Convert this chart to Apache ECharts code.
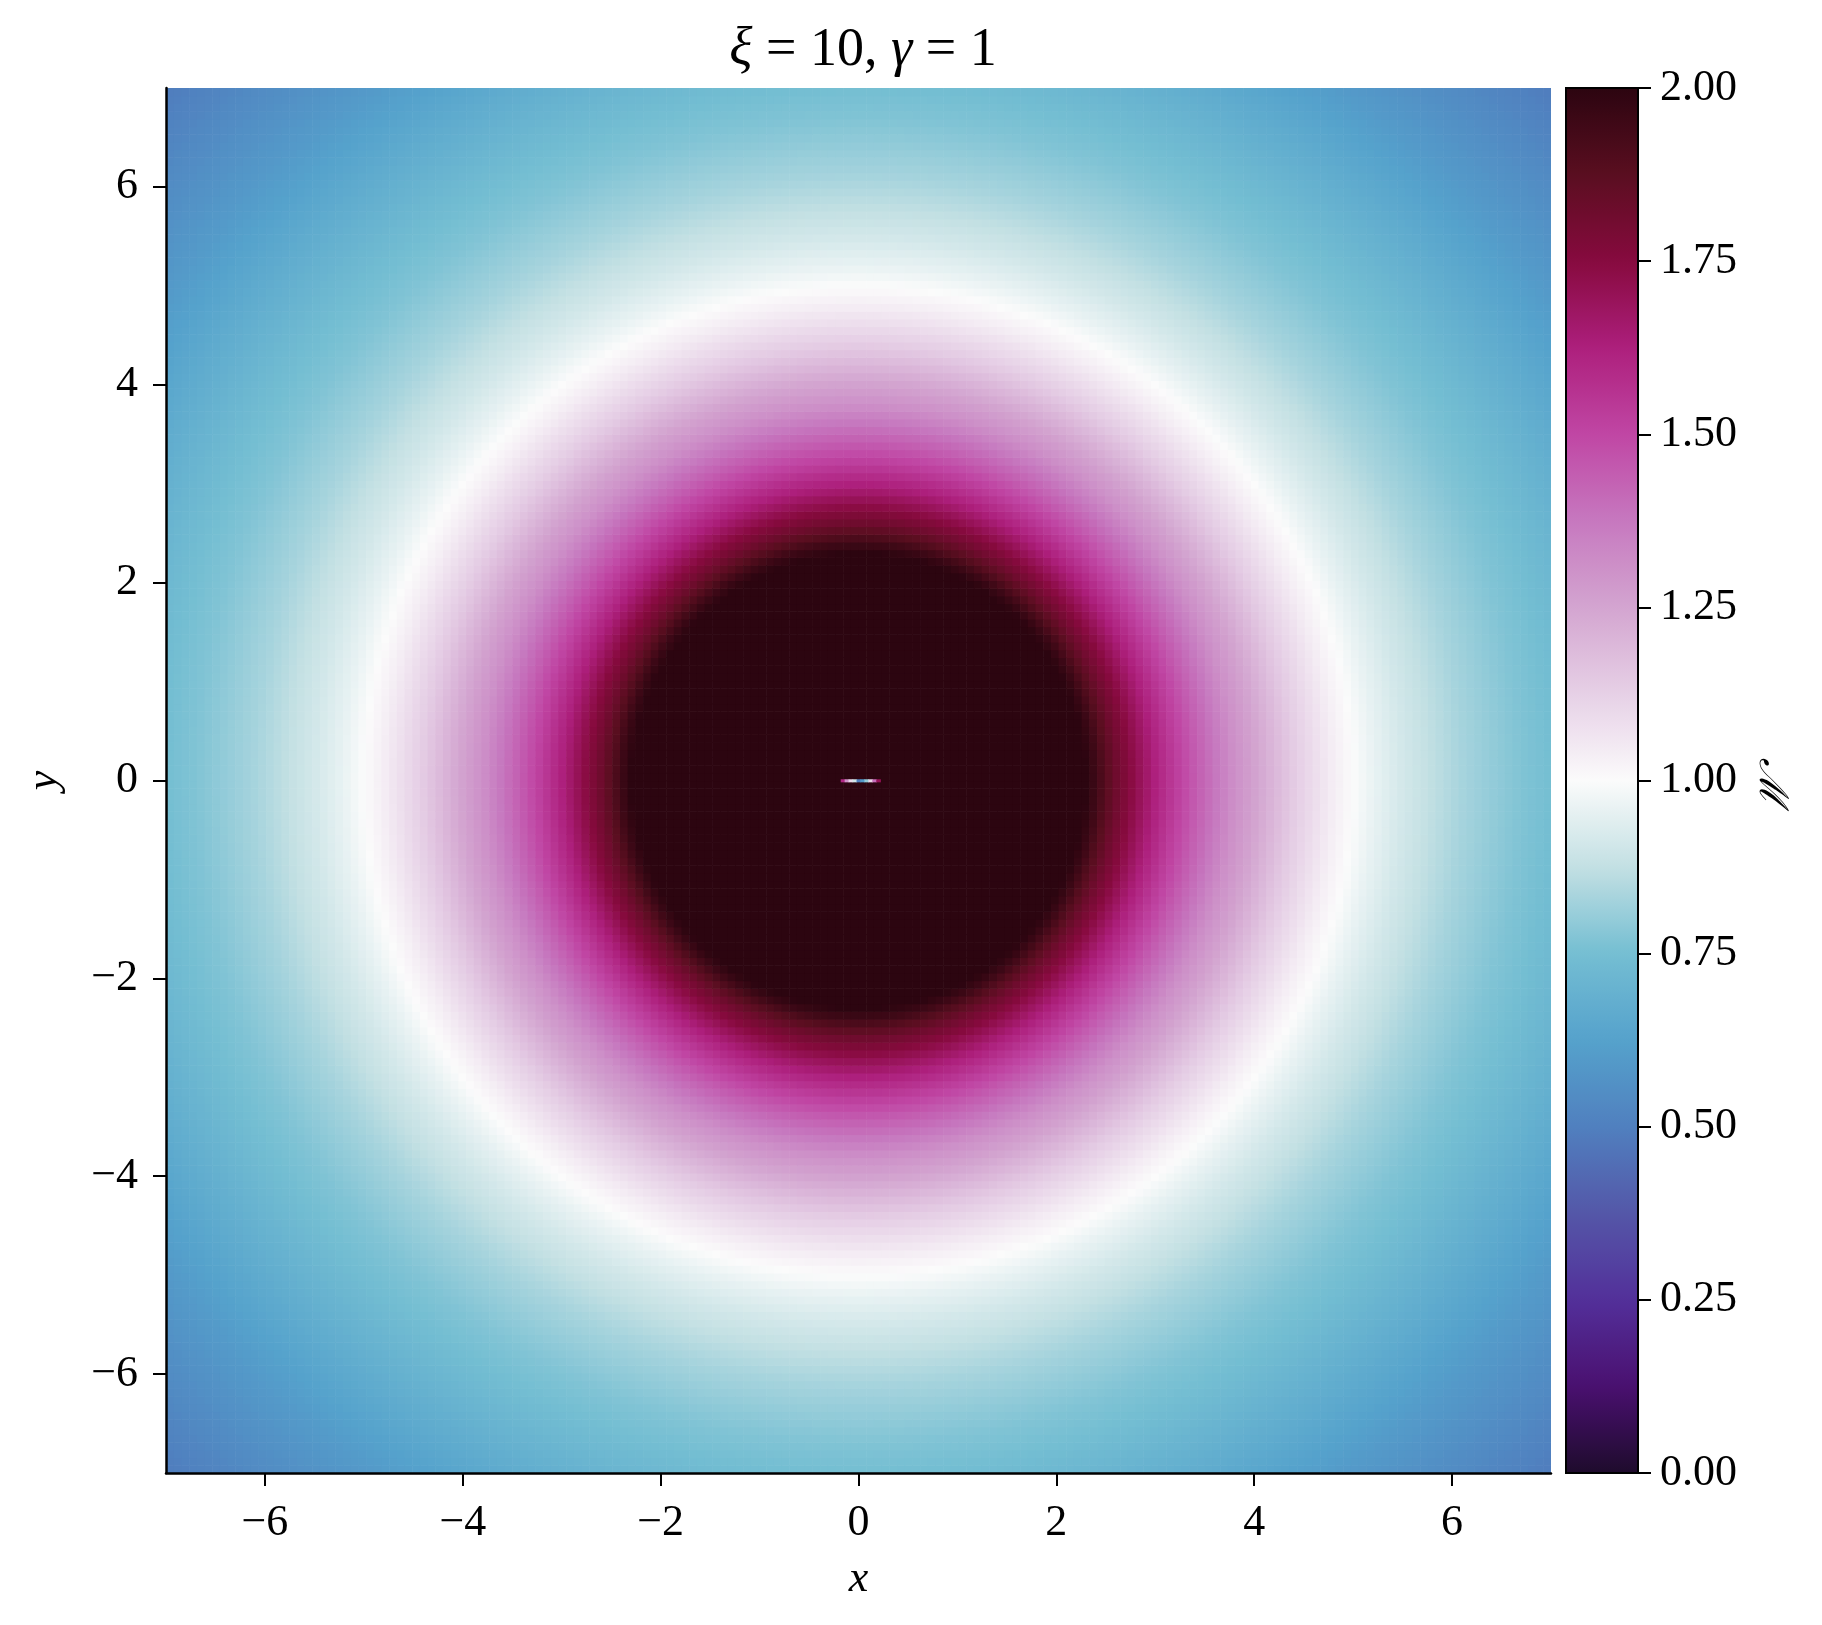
<!DOCTYPE html>
<html><head><meta charset="utf-8">
<script src="https://cdn.jsdelivr.net/npm/echarts@6/dist/echarts.min.js"></script>
<style>html,body{margin:0;padding:0;background:#fff}#c{width:1822px;height:1625px}</style>
</head><body><div id="c"></div>
<script>
// Radial profile of M (radius -> value; values above 2 shown clipped)
const radius   = [0, 2.3, 2.4, 2.5, 2.6, 2.7, 2.8, 2.9, 3.0, 3.2, 3.4, 3.6, 3.8, 4.0, 4.2, 4.4, 4.6, 4.8, 5.0, 5.2, 5.5, 5.8, 6.1, 6.4, 6.7, 7.0, 7.5, 8.0, 8.5, 9.0, 9.5, 10.0];
const mProfile = [2.0, 2.0, 1.95, 1.88, 1.82, 1.77, 1.72, 1.67, 1.62, 1.53, 1.45, 1.38, 1.31, 1.26, 1.20, 1.14, 1.09, 1.04, 1.00, 0.96, 0.91, 0.87, 0.83, 0.80, 0.77, 0.75, 0.70, 0.65, 0.60, 0.56, 0.52, 0.48];
// small artifact streak at the origin
const streakX = [-0.16, -0.12, -0.08, -0.04, 0.0, 0.04, 0.08, 0.12, 0.16, 0.20];
const streakM = [1.6, 1.3, 1.1, 0.9, 0.5, 0.6, 0.8, 1.1, 1.4, 1.7];
const axisTicks = [-6, -4, -2, 0, 2, 4, 6];
const cmapColors = ['#1e0b2c','#4a1070','#53309a','#5457a8','#5080bf','#55a2cc','#74bed2','#c3e0e3','#fbfbfb','#e6d0e6','#d3a5d0','#c678bf','#c046a4','#ad1f7c','#870a3e','#5a0e20','#2c0510'];

const N = 180, lo = -7, hi = 7, cw = (hi - lo) / N;
function profileAt(r) {
  if (r >= radius[radius.length - 1]) return mProfile[mProfile.length - 1];
  for (let k = 1; k < radius.length; k++) {
    if (r <= radius[k]) {
      const t = (r - radius[k - 1]) / (radius[k] - radius[k - 1]);
      return mProfile[k - 1] + t * (mProfile[k] - mProfile[k - 1]);
    }
  }
}
const cells = [];
for (let i = 0; i < N; i++) {
  for (let j = 0; j < N; j++) {
    const x = lo + (i + 0.5) * cw, y = lo + (j + 0.5) * cw;
    cells.push([x, y, Math.min(2, profileAt(Math.hypot(x, y)))]);
  }
}
const streak = streakX.map((x, k) => [x, 0, streakM[k]]);

const FONT = 'Liberation Serif';
const fmt = v => v < 0 ? '\u2212' + (-v) : String(v);

function rectItem(w, h) {
  return function (params, api) {
    const x = api.value(0), y = api.value(1);
    const p0 = api.coord([x - w / 2, y + h / 2]);
    const p1 = api.coord([x + w / 2, y - h / 2]);
    return { type: 'rect', shape: { x: p0[0], y: p0[1], width: p1[0] - p0[0] + 0.6, height: p1[1] - p0[1] + 0.6 },
      style: { fill: api.visual('color') } };
  };
}

const chart = echarts.init(document.getElementById('c'), null, { renderer: 'canvas' });
chart.setOption({
  animation: false,
  backgroundColor: '#fff',
  title: {
    text: '{i|\u03be}{n| = 10, }{i|\u03b3}{n| = 1}',
    left: 858, top: 19, textAlign: 'center',
    textStyle: { fontWeight: 'normal',
      rich: { i: { fontFamily: FONT, fontStyle: 'italic', fontWeight: 'normal', fontSize: 54, color: '#000' },
              n: { fontFamily: FONT, fontWeight: 'normal', fontSize: 54, color: '#000' } } }
  },
  grid: [
    { left: 166, top: 88, width: 1385, height: 1385 },
    { left: 1566, top: 88, width: 72, height: 1385 }
  ],
  xAxis: [
    { gridIndex: 0, type: 'value', min: lo, max: hi, z: 10,
      name: 'x', nameLocation: 'middle', nameGap: 84,
      nameTextStyle: { fontFamily: FONT, fontStyle: 'italic', fontSize: 44, color: '#000' },
      axisLine: { show: true, onZero: false, lineStyle: { color: '#000', width: 2.5 } },
      axisTick: { show: true, inside: false, length: 13, lineStyle: { color: '#000', width: 2 }, customValues: axisTicks },
      axisLabel: { customValues: axisTicks, formatter: fmt, fontFamily: FONT, fontSize: 44, color: '#000', margin: 28 },
      splitLine: { show: false } },
    { gridIndex: 1, type: 'value', min: 0, max: 1, show: false }
  ],
  yAxis: [
    { gridIndex: 0, type: 'value', min: lo, max: hi, z: 10,
      name: 'y', nameLocation: 'middle', nameGap: 100, nameRotate: 90,
      nameTextStyle: { fontFamily: FONT, fontStyle: 'italic', fontSize: 44, color: '#000' },
      axisLine: { show: true, onZero: false, lineStyle: { color: '#000', width: 2.5 } },
      axisTick: { show: true, inside: false, length: 13, lineStyle: { color: '#000', width: 2 }, customValues: axisTicks },
      axisLabel: { customValues: axisTicks, formatter: fmt, fontFamily: FONT, fontSize: 44, color: '#000', margin: 28 },
      splitLine: { show: false } },
    { gridIndex: 1, type: 'value', min: 0, max: 2, interval: 0.25, position: 'right', z: 10,
      name: '\u2133', nameLocation: 'middle', nameGap: 112, nameRotate: -90,
      nameTextStyle: { fontFamily: 'DejaVu Serif', fontStyle: 'italic', fontSize: 40, color: '#000' },
      axisLine: { show: true, onZero: false, lineStyle: { color: '#000', width: 2 } },
      axisTick: { show: true, inside: false, length: 13, lineStyle: { color: '#000', width: 2 } },
      axisLabel: { formatter: v => v.toFixed(2), fontFamily: FONT, fontSize: 44, color: '#000', margin: 22 },
      splitLine: { show: false } }
  ],
  visualMap: {
    type: 'continuous', min: 0, max: 2, dimension: 2, seriesIndex: [0, 1],
    calculable: false, hoverLink: false, orient: 'vertical',
    left: 1566, top: 88, itemWidth: 72, itemHeight: 1385, padding: 0,
    inRange: { color: cmapColors }
  },
  graphic: [
    { type: 'rect', z: 100, silent: true, shape: { x: 1566, y: 88, width: 72, height: 1385 },
      style: { fill: 'none', stroke: '#000', lineWidth: 2 } }
  ],
  series: [
    { type: 'custom', xAxisIndex: 0, yAxisIndex: 0, data: cells, renderItem: rectItem(cw, cw),
      clip: true, progressive: 0, silent: true, encode: { x: 0, y: 1 } },
    { type: 'custom', xAxisIndex: 0, yAxisIndex: 0, data: streak, renderItem: rectItem(0.04, 0.025),
      clip: true, silent: true, z: 3, encode: { x: 0, y: 1 } }
  ]
});
</script></body></html>
